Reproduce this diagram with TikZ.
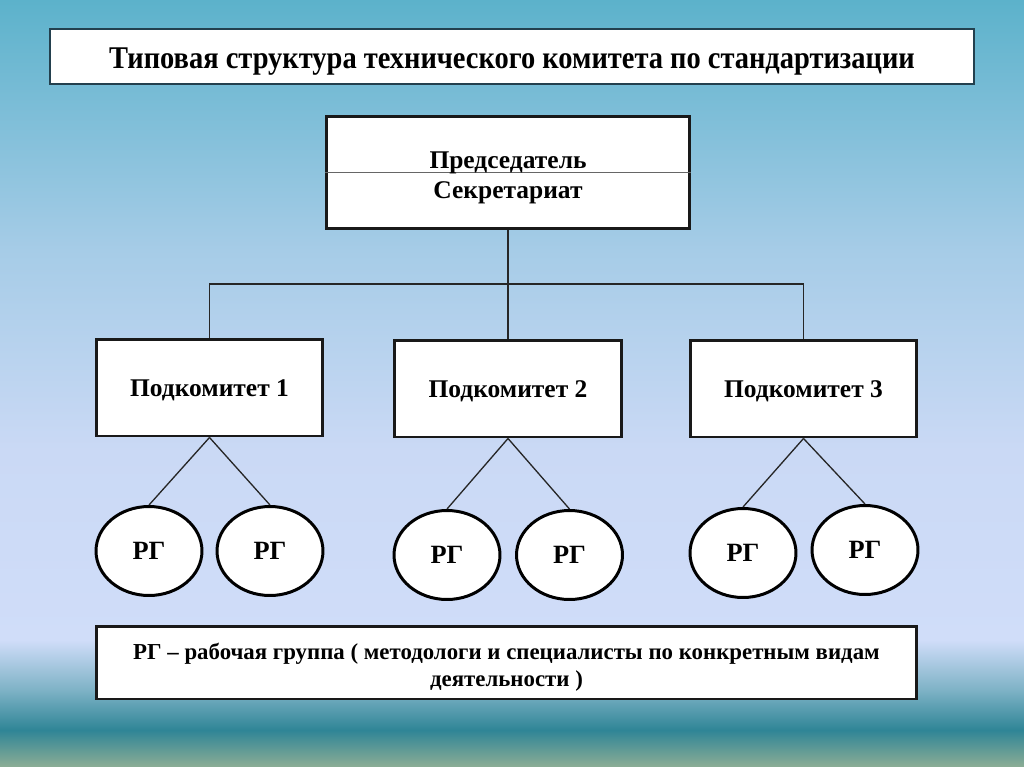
\documentclass[tikz,border=0pt]{standalone}
\usepackage{fontspec}
\setmainfont{Liberation Serif}
\newfontfamily\narrowserif{Liberation Serif}[FakeStretch=0.9]
\usetikzlibrary{positioning, shapes.geometric}
\definecolor{skytop}{HTML}{5CB2CB}
\definecolor{skymid}{HTML}{A6CCE7}
\definecolor{skylow}{HTML}{CAD9F5}
\definecolor{skypale}{HTML}{D0DDF9}
\definecolor{seahaze}{HTML}{7EB2C6}
\definecolor{seadeep}{HTML}{2F8596}
\definecolor{seashore}{HTML}{8CAD95}
\definecolor{slateline}{HTML}{23404E}

\begin{document}
\begin{tikzpicture}[x=0.02cm, y=-0.02cm,
  box/.style={rectangle, draw=black!90, line width=1.7pt, fill=white, inner sep=0pt,
    font=\bfseries\fontsize{14.5}{17}\selectfont},
  subbox/.style={box, minimum width=4.54cm, minimum height=1.94cm, text height=10.4pt, text depth=0pt},
  rg/.style={ellipse, draw=black, line width=1.7pt, fill=white, inner sep=0pt,
    minimum width=2.12cm, minimum height=1.78cm, text height=10.2pt, text depth=0pt,
    font=\bfseries\fontsize{15}{17}\selectfont},
  caption/.style={anchor=base, inner sep=0pt, font=\bfseries\fontsize{14.5}{17}\selectfont},
  link/.style={draw=black!85, line width=0.75pt}]
\useasboundingbox (0,0) rectangle (1024,767);
\shade[top color=skytop, bottom color=skymid] (0,0) rectangle (1024,250);
\shade[top color=skymid, bottom color=skylow] (0,250) rectangle (1024,450);
\shade[top color=skylow, bottom color=skypale] (0,450) rectangle (1024,640);
\shade[top color=skypale, bottom color=seahaze] (0,640) rectangle (1024,690);
\shade[top color=seahaze, bottom color=seadeep] (0,690) rectangle (1024,730);
\shade[top color=seadeep, bottom color=seashore] (0,730) rectangle (1024,767);

\node[box, draw=slateline, line width=1.1pt, minimum width=18.48cm, minimum height=1.1cm,
  text height=13.4pt, text depth=0pt, font=\narrowserif\bfseries\fontsize{18}{21}\selectfont]
  (title) at (512,56.5) {Типовая структура технического комитета по стандартизации};

\node[box, minimum width=7.28cm, minimum height=2.26cm] (chair) at (508,172.5) {};
\draw[draw=black!60, line width=0.7pt] (chair.west) -- (chair.east);
\node[caption] (chairman) at (508,168) {Председатель};
\node[caption] (secretariat) at (508,198) {Секретариат};

\node[subbox] (sub1) at (209.5,387.5) {Подкомитет 1};
\node[subbox] (sub2) at (508,388.5) {Подкомитет 2};
\node[subbox] (sub3) at (803.5,388.5) {Подкомитет 3};

\node[rg] (rg11) at (149,551) {РГ};
\node[rg] (rg12) at (270,551) {РГ};
\node[rg] (rg21) at (447,555) {РГ};
\node[rg] (rg22) at (569.5,555) {РГ};
\node[rg] (rg31) at (743,553) {РГ};
\node[rg] (rg32) at (865,550) {РГ};

\node[box, minimum width=16.42cm, minimum height=1.46cm] (note) at (506.5,662.5) {};
\node[caption, font=\bfseries\fontsize{13}{15.5}\selectfont] (noteline1) at (506.5,659)
  {РГ – рабочая группа ( методологи и специалисты по конкретным видам};
\node[caption, font=\bfseries\fontsize{13}{15.5}\selectfont] (noteline2) at (506.5,686)
  {деятельности )};

\coordinate (fork) at (508,284);
\draw[link] (sub1.north) |- (fork) -| (sub3.north);
\path[link]
  (chair.south) edge (sub2.north)
  (sub1.south) edge (rg11.north)
               edge (rg12.north)
  (sub2.south) edge (rg21.north)
               edge (rg22.north)
  (sub3.south) edge (rg31.north)
               edge (rg32.north);
\end{tikzpicture}
\end{document}
